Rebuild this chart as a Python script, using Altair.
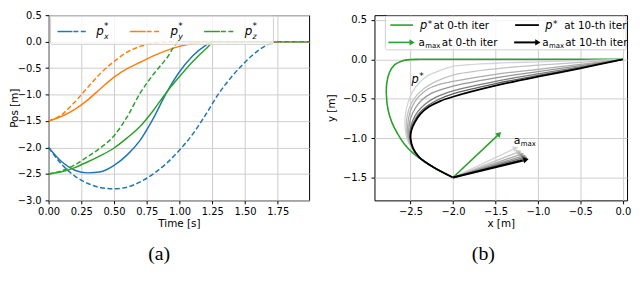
import math
import altair as alt
import pandas as pd

# ---------------- panel (a) data ----------------
t_px_solid = [0, 0.1, 0.2, 0.3, 0.4, 0.5, 0.6, 0.7, 0.8, 0.9, 1.0, 1.1, 1.2, 1.25, 2.0]
v_px_solid = [-2.0, -2.27, -2.43, -2.48, -2.46, -2.34, -2.14, -1.86, -1.45, -0.97, -0.57, -0.27, -0.07, 0.0, 0.0]
t_px_dash = [0, 0.1, 0.2, 0.3, 0.4, 0.5, 0.6, 0.7, 0.8, 0.9, 1.0, 1.1, 1.2, 1.3, 1.4, 1.5, 1.6, 1.7, 1.75, 2.0]
v_px_dash = [-2.0, -2.32, -2.54, -2.68, -2.76, -2.78, -2.75, -2.65, -2.5, -2.3, -2.05, -1.75, -1.38, -0.98, -0.66, -0.39, -0.17, -0.03, 0.0, 0.0]
t_py_solid = [0, 0.1, 0.2, 0.3, 0.4, 0.5, 0.6, 0.7, 0.8, 0.9, 1.0, 1.1, 1.2, 1.25, 2.0]
v_py_solid = [-1.5, -1.41, -1.28, -1.1, -0.88, -0.67, -0.51, -0.39, -0.27, -0.17, -0.09, -0.035, -0.006, 0.0, 0.0]
t_py_dash = [0, 0.1, 0.2, 0.3, 0.4, 0.5, 0.6, 0.7, 0.8, 0.9, 1.0, 2.0]
v_py_dash = [-1.5, -1.38, -1.14, -0.86, -0.59, -0.375, -0.2, -0.09, -0.03, -0.005, 0.0, 0.0]
t_pz_solid = [0, 0.1, 0.2, 0.3, 0.4, 0.5, 0.6, 0.7, 0.8, 0.9, 1.0, 1.1, 1.2, 1.27, 2.0]
v_pz_solid = [-2.5, -2.46, -2.38, -2.27, -2.15, -2.01, -1.82, -1.6, -1.3, -0.96, -0.66, -0.38, -0.14, 0.0, 0.0]
t_pz_dash = [0, 0.1, 0.2, 0.3, 0.4, 0.5, 0.6, 0.7, 0.8, 0.9, 1.0, 2.0]
v_pz_dash = [-2.5, -2.44, -2.33, -2.17, -2.0, -1.78, -1.42, -0.97, -0.62, -0.32, 0.0, 0.0]

xticks_a = [0, 0.25, 0.5, 0.75, 1.0, 1.25, 1.5, 1.75]
yticks_a = [-3.0, -2.5, -2.0, -1.5, -1.0, -0.5, 0.0, 0.5]

# ---------------- panel (b) data ----------------
green_x = [-2.0, -2.23, -2.40, -2.48, -2.57, -2.65, -2.72, -2.765, -2.785, -2.78, -2.75, -2.69, -2.6, -2.5, -2.4, 0.0]
green_y = [-1.5, -1.37, -1.25, -1.18, -1.08, -0.95, -0.8, -0.64, -0.45, -0.3, -0.17, -0.07, -0.02, -0.003, 0.0, 0.0]

g1_x = [-2.0, -2.23, -2.40, -2.49, -2.545, -2.565, -2.56, -2.53, -2.48, -2.40, -2.30, -2.15, -2.0, -1.5, -1.0, -0.5, 0.0]
g1_y = [-1.5, -1.37, -1.24, -1.12, -1.0, -0.85, -0.7, -0.55, -0.42, -0.3, -0.21, -0.14, -0.09, -0.05, -0.033, -0.018, 0.0]
g2_x = [-2.0, -2.23, -2.40, -2.485, -2.535, -2.55, -2.54, -2.50, -2.43, -2.33, -2.20, -2.0, -1.5, -1.0, -0.5, 0.0]
g2_y = [-1.5, -1.37, -1.24, -1.12, -1.0, -0.86, -0.72, -0.58, -0.46, -0.36, -0.28, -0.2, -0.12, -0.075, -0.04, 0.0]
g3_x = [-2.0, -2.23, -2.40, -2.48, -2.525, -2.535, -2.52, -2.48, -2.41, -2.30, -2.17, -2.0, -1.5, -1.0, -0.5, 0.0]
g3_y = [-1.5, -1.37, -1.24, -1.12, -1.0, -0.87, -0.73, -0.6, -0.48, -0.38, -0.32, -0.28, -0.19, -0.127, -0.065, 0.0]
g4_x = [-2.0, -2.23, -2.40, -2.478, -2.515, -2.52, -2.50, -2.45, -2.37, -2.25, -2.0, -1.5, -1.0, -0.5, 0.0]
g4_y = [-1.5, -1.37, -1.24, -1.12, -1.0, -0.88, -0.75, -0.63, -0.52, -0.43, -0.34, -0.235, -0.155, -0.08, 0.0]
g5_x = [-2.0, -2.23, -2.40, -2.475, -2.508, -2.505, -2.475, -2.415, -2.33, -2.2, -2.0, -1.5, -1.0, -0.5, 0.0]
g5_y = [-1.5, -1.37, -1.24, -1.125, -1.0, -0.89, -0.78, -0.665, -0.57, -0.48, -0.40, -0.28, -0.185, -0.095, 0.0]
g6_x = [-2.0, -2.23, -2.40, -2.472, -2.503, -2.497, -2.46, -2.395, -2.30, -2.17, -2.0, -1.5, -1.0, -0.5, 0.0]
g6_y = [-1.5, -1.37, -1.24, -1.128, -1.0, -0.895, -0.79, -0.68, -0.59, -0.51, -0.44, -0.31, -0.205, -0.107, 0.0]
black_x = [-2.0, -2.23, -2.40, -2.47, -2.50, -2.49, -2.45, -2.38, -2.28, -2.15, -2.0, -1.5, -1.0, -0.5, 0.0]
black_y = [-1.5, -1.37, -1.24, -1.13, -1.0, -0.9, -0.8, -0.69, -0.6, -0.53, -0.475, -0.335, -0.22, -0.115, 0.0]

arrow_start = (-2.0, -1.5)
arrow_end_x = [-1.43, -1.23, -1.19, -1.16, -1.14, -1.125, -1.115, -1.105]
arrow_end_y = [-0.92, -1.11, -1.16, -1.19, -1.215, -1.235, -1.25, -1.265]

xticks_b = [-2.5, -2.0, -1.5, -1.0, -0.5, 0.0]
yticks_b = [-1.5, -1.0, -0.5, 0.0, 0.5]

# ---------------- styling ----------------
BLUE, ORANGE, GREEN = "#1f77b4", "#ff7f0e", "#2ca02c"
GRAYS = ["#d4d4d4", "#c2c2c2", "#adadad", "#979797", "#7e7e7e", "#5e5e5e"]
FONT = "DejaVu Sans"
DASH = [5, 2.5]
W1, W2, H = 263, 255, 187
XA, YA = [0, 1.99], [-3.0, 0.5]
XB, YB = [-2.925, 0.05], [-1.79, 0.56]


def df_xy(x, y):
    return pd.DataFrame({"x": x, "y": y, "i": list(range(len(x)))})


def px_enc(xf="x", yf="y"):
    return dict(x=alt.X(f"{xf}:Q", scale=None, axis=None), y=alt.Y(f"{yf}:Q", scale=None, axis=None))


def text_layer(rows, italic=False):
    d = pd.DataFrame(rows, columns=["t", "x", "y", "s"])
    return alt.Chart(d).mark_text(font=FONT, align="left", baseline="alphabetic", color="black",
                                  fontStyle="italic" if italic else "normal").encode(
        text="t:N", size=alt.Size("s:Q", scale=None), **px_enc())


# ---------------- panel (a) ----------------
xsA = alt.Scale(domain=XA, nice=False, zero=False)
ysA = alt.Scale(domain=YA, nice=False, zero=False)
axAx = alt.Axis(values=xticks_a, format=".2f", title="Time [s]")
axAy = alt.Axis(values=yticks_a, format=".1f", title="Pos [m]", titlePadding=-2, labelPadding=4)

series_a = [
    (t_px_solid, v_px_solid, BLUE, False),
    (t_py_solid, v_py_solid, ORANGE, False),
    (t_pz_solid, v_pz_solid, GREEN, False),
    (t_px_dash, v_px_dash, BLUE, True),
    (t_py_dash, v_py_dash, ORANGE, True),
    (t_pz_dash, v_pz_dash, GREEN, True),
]
layers_a = []
for t, v, col, dashed in series_a:
    kw = dict(color=col, strokeWidth=1.5, interpolate="monotone", clip=True)
    if dashed:
        kw["strokeDash"] = DASH
    layers_a.append(alt.Chart(df_xy(t, v)).mark_line(**kw).encode(
        x=alt.X("x:Q", scale=xsA, axis=axAx), y=alt.Y("y:Q", scale=ysA, axis=axAy)))

# legend of panel (a), in pixels inside the plot
leg_box_a = pd.DataFrame({"x": [2], "x2": [227], "y": [1], "y2": [29.5]})
layers_a.append(alt.Chart(leg_box_a).mark_rect(fill="white", fillOpacity=0.8, stroke="#d0d0d0",
                                               strokeWidth=1, cornerRadius=2).encode(
    x2="x2:Q", y2="y2:Q", **px_enc()))
ry = 16.5
solid_h = pd.DataFrame({"x": [9, 82, 157], "x2": [24, 98, 173], "y": [ry] * 3, "c": [BLUE, ORANGE, GREEN]})
dash_h = pd.DataFrame({"x": [25, 99, 174], "x2": [39.5, 113.5, 188.5], "y": [ry] * 3, "c": [BLUE, ORANGE, GREEN]})
layers_a.append(alt.Chart(solid_h).mark_rule(strokeWidth=1.5).encode(
    x2="x2:Q", color=alt.Color("c:N", scale=None), **px_enc()))
layers_a.append(alt.Chart(dash_h).mark_rule(strokeWidth=1.5, strokeDash=DASH).encode(
    x2="x2:Q", color=alt.Color("c:N", scale=None), **px_enc()))
ital_a = []
norm_a = []
for lx, sub in [(48, "x"), (123, "y"), (198, "z")]:
    ital_a.append(("p", lx, 20, 12))
    ital_a.append((sub, lx + 7.8, 24.2, 8))
    norm_a.append(("*", lx + 7.8, 14.2, 9))
layers_a.append(text_layer(ital_a, italic=True))
layers_a.append(text_layer(norm_a))

chart_a = alt.layer(*layers_a).properties(
    width=W1, height=H,
    title=alt.TitleParams("(a)", orient="bottom", anchor="middle", frame="bounds", offset=16,
                          font="Liberation Serif", fontSize=20, fontWeight="normal", color="black"))

# ---------------- panel (b) ----------------
xsB = alt.Scale(domain=XB, nice=False, zero=False)
ysB = alt.Scale(domain=YB, nice=False, zero=False)
axBx = alt.Axis(values=xticks_b, format=".1f", title="x [m]")
axBy = alt.Axis(values=yticks_b, format=".1f", title="y [m]", titlePadding=6.5, labelPadding=4.5)


def xb():
    return alt.X("x:Q", scale=xsB, axis=axBx)


def yb():
    return alt.Y("y:Q", scale=ysB, axis=axBy)


layers_b = []
curves_b = [(green_x, green_y, GREEN, 1.6)]
for (cx, cy), col in zip([(g1_x, g1_y), (g2_x, g2_y), (g3_x, g3_y), (g4_x, g4_y), (g5_x, g5_y), (g6_x, g6_y)], GRAYS):
    curves_b.append((cx, cy, col, 1.3))
curves_b.append((black_x, black_y, "black", 1.8))
for cx, cy, col, w in curves_b:
    layers_b.append(alt.Chart(df_xy(cx, cy)).mark_line(color=col, strokeWidth=w, interpolate="catmull-rom",
                                                        clip=True).encode(
        x=xb(), y=yb(), order="i:Q"))

# arrows (a_max)
kx = W2 / (XB[1] - XB[0])
ky = H / (YB[1] - YB[0])
arrow_cols = [GREEN] + GRAYS + ["black"]
arrow_w = [1.6] + [1.4] * 6 + [2.0]
rows_r, rows_h = [], []
for ex, ey, col, w in zip(arrow_end_x, arrow_end_y, arrow_cols, arrow_w):
    dx = (ex - arrow_start[0]) * kx
    dy = (ey - arrow_start[1]) * ky
    th = math.atan2(dy, dx)
    hx = ex - 3.0 * math.cos(th) / kx
    hy = ey - 3.0 * math.sin(th) / ky
    rows_r.append({"x": arrow_start[0], "y": arrow_start[1], "x2": hx, "y2": hy, "c": col, "w": w})
    rows_h.append({"x": hx, "y": hy, "c": col, "a": (-math.degrees(th)) % 360})
arr_r = pd.DataFrame(rows_r)
arr_h = pd.DataFrame(rows_h)
layers_b.append(alt.Chart(arr_r).mark_rule().encode(
    x=xb(), y=yb(), x2="x2:Q", y2="y2:Q",
    color=alt.Color("c:N", scale=None), strokeWidth=alt.StrokeWidth("w:Q", scale=None)))
layers_b.append(alt.Chart(arr_h).mark_point(shape="triangle-right", filled=True, size=38, opacity=1).encode(
    x=xb(), y=yb(), color=alt.Color("c:N", scale=None), angle=alt.Angle("a:Q", scale=None)))

# annotations in data coordinates
ann_i = pd.DataFrame({"t": ["p"], "x": [-2.49], "y": [-0.30], "s": [11.5]})
ann_n = pd.DataFrame({"t": ["*", "a", "max"], "x": [-2.398, -1.285, -1.203], "y": [-0.255, -1.069, -1.10],
                      "s": [9, 11, 7]})
layers_b.append(alt.Chart(ann_i).mark_text(font=FONT, fontStyle="italic", align="left", baseline="alphabetic",
                                           color="black").encode(
    x=xb(), y=yb(), text="t:N", size=alt.Size("s:Q", scale=None)))
layers_b.append(alt.Chart(ann_n).mark_text(font=FONT, align="left", baseline="alphabetic", color="black").encode(
    x=xb(), y=yb(), text="t:N", size=alt.Size("s:Q", scale=None)))

# legend of panel (b), in pixels inside the plot
leg_box_b = pd.DataFrame({"x": [11], "x2": [254], "y": [1], "y2": [35]})
layers_b.append(alt.Chart(leg_box_b).mark_rect(fill="white", fillOpacity=0.8, stroke="#d0d0d0",
                                               strokeWidth=1, cornerRadius=2).encode(
    x2="x2:Q", y2="y2:Q", **px_enc()))
r1, r2 = 10, 27.5
leg_lines = pd.DataFrame({"x": [16, 142, 14, 141], "x2": [39, 166, 37, 164], "y": [r1, r1, r2, r2],
                          "c": [GREEN, "black", GREEN, "black"], "w": [1.6, 1.8, 1.6, 2.0]})
layers_b.append(alt.Chart(leg_lines).mark_rule().encode(
    x2="x2:Q", color=alt.Color("c:N", scale=None), strokeWidth=alt.StrokeWidth("w:Q", scale=None), **px_enc()))
leg_heads = pd.DataFrame({"x": [38, 165], "y": [r2, r2], "c": [GREEN, "black"]})
layers_b.append(alt.Chart(leg_heads).mark_point(shape="triangle-right", filled=True, size=38, opacity=1).encode(
    color=alt.Color("c:N", scale=None), **px_enc()))
ital_b = [("p", 46, r1 + 4, 11.5), ("p", 172.5, r1 + 4, 11.5)]
norm_b = [("*", 53.8, r1 + 1.5, 9), ("at 0-th iter", 59.5, r1 + 4, 10.5),
          ("*", 180.3, r1 + 1.5, 9), ("at 10-th iter", 191.5, r1 + 4, 10.5),
          ("a", 44.5, r2 + 3.5, 10.5), ("max", 51.2, r2 + 6, 7), ("at 0-th iter", 68, r2 + 3.5, 10.5),
          ("a", 169.5, r2 + 3.5, 10.5), ("max", 176.2, r2 + 6, 7), ("at 10-th iter", 192.5, r2 + 3.5, 10.5)]
layers_b.append(text_layer(ital_b, italic=True))
layers_b.append(text_layer(norm_b))

chart_b = alt.layer(*layers_b).properties(
    width=W2, height=H,
    title=alt.TitleParams("(b)", orient="bottom", anchor="middle", frame="bounds", offset=16, dx=5,
                          font="Liberation Serif", fontSize=20, fontWeight="normal", color="black"))

chart = alt.hconcat(chart_a, chart_b, spacing=15, padding=0).configure_axis(
    labelFont=FONT, titleFont=FONT, labelFontSize=10, titleFontSize=10.5, titleFontWeight="normal",
    labelColor="black", titleColor="black", tickColor="black", tickSize=3.5, tickWidth=1,
    domain=False, gridColor="#cccccc", gridWidth=1, labelFlush=False, labelOverlap=False
).configure_axisX(labelPadding=2.5, titlePadding=2).configure_view(stroke="black", strokeWidth=1)

chart.save("out.html", embed_options={"renderer": "svg", "actions": False})
